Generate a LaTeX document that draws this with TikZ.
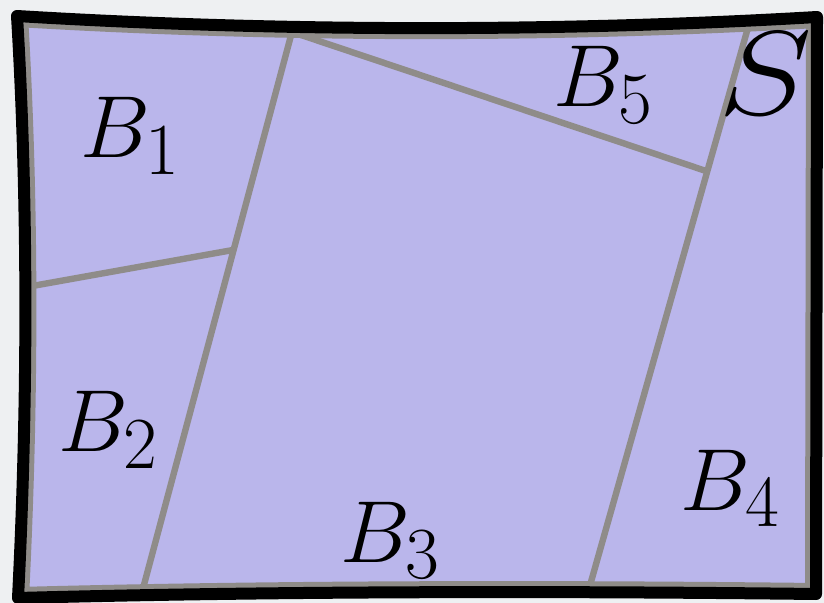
\documentclass[tikz,border=0pt]{standalone}
\usepackage{amsmath,amssymb}
\usepackage{graphicx}
\usepackage{xcolor}
\usepackage{tikz}
\usetikzlibrary{calc,positioning}
\definecolor{lavc}{HTML}{BAB6EB}
\definecolor{seamc}{HTML}{8F8C89}
\definecolor{pagec}{HTML}{EEF0F2}
\newcommand{\bigmath}[3][]{\scalebox{#2}[#1]{\Huge$#3$}}
\tikzset{
  seam/.style={seamc,line width=3.2pt,line cap=butt},
  rim/.style={black,line width=6pt,line join=round},
  lab/.style={anchor=base west,inner sep=0pt}
}
\begin{document}
\begin{tikzpicture}[x=0.5pt,y=-0.5pt]
\fill[pagec] (0,0) rectangle (824,603);
\useasboundingbox (0,0) rectangle (824,603);
\def\rimpath{(17,16) .. controls (280,32) and (560,32) .. (817,17) -- (816,594) .. controls (560,591) and (280,591) .. (18,598) .. controls (28,400) and (28,200) .. (17,16) -- cycle}
\fill[lavc] \rimpath;
\begin{scope}
\clip \rimpath;
\draw[seamc,line width=11pt] \rimpath;
\draw[seam] (293,28) -- (141,596);
\draw[seam] (10,290) -- (233,250);
\draw[seam] (295,33) -- (709,172);
\draw[seam] (749,24) -- (587,596);
\end{scope}
\draw[rim] \rimpath;
% labels
\node[lab] (b1) at (80,158) {\bigmath[1.77]{1.77}{B_1}};
\node[lab] (b2) at (58,452) {\bigmath[1.77]{1.77}{B_2}};
\node[lab] (b3) at (340,562) {\bigmath[1.77]{1.77}{B_3}};
\node[lab] (b4) at (680,510) {\bigmath[1.77]{1.77}{B_4}};
\node[lab] (b5) at (553,107) {\bigmath[1.77]{1.77}{B_5}};
\node[lab] (s) at (718,115) {\bigmath[2.4]{2.85}{S}};
\end{tikzpicture}
\end{document}
